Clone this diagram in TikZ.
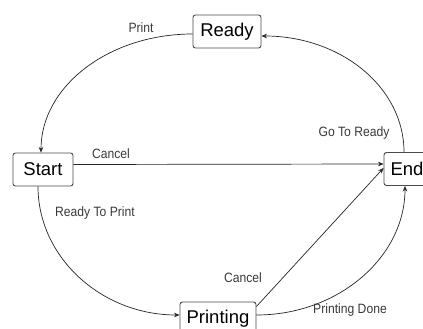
\documentclass[tikz,border=0pt]{standalone}
\usepackage{fontspec}
\setmainfont{Liberation Sans}
\newfontfamily\edgefont[FakeStretch=0.9]{Liberation Sans}
\usetikzlibrary{arrows.meta}
\definecolor{boxline}{HTML}{4A4A4A}
\definecolor{labeltext}{HTML}{3A3A3A}
\tikzset{
  state/.style={draw=boxline, line width=0.9pt, rounded corners=2.5pt, fill=white,
    minimum height=33pt, inner sep=0pt, font=\fontsize{18.5}{20}\selectfont},
  trans/.style={draw=black!85, line width=0.7pt, -{Stealth[length=5.5pt,width=4.5pt]}},
  elabel/.style={text=labeltext, inner sep=0pt, font=\edgefont\fontsize{13.5}{15}\selectfont}
}
\begin{document}
\begin{tikzpicture}[x=1pt, y=-1pt]
  \useasboundingbox (0,0) rectangle (423,329);
  \clip (0,0) rectangle (423,329);
  \fill[white] (0,0) rectangle (423,329);

  % states
  \node[state, minimum width=68pt] (ready) at (227,31.5) {Ready};
  \node[state, minimum width=60pt] (start) at (43,169.5) {Start};
  \node[state, minimum width=46pt] (end) at (407,169) {End};
  \node[state, minimum width=76pt] (printing) at (218,318.5) {Printing};

  % transitions
  \draw[trans] ([yshift=-2.5pt]ready.west) .. controls +(-84,0) and +(0,-66) .. ([xshift=-2pt]start.north);
  \draw[trans] ([xshift=-3pt]end.north) .. controls +(0,-65) and +(79,0) .. ([yshift=-4.5pt]ready.east);
  \draw[trans] ([yshift=5pt]start.east) -- ([yshift=5pt]end.west);
  \draw[trans] ([xshift=-5pt]start.south) .. controls +(0,71) and +(-78,0) .. ([yshift=3.5pt]printing.west);
  \draw[trans] ([yshift=12pt]printing.east) -- ([yshift=1pt]end.west);
  \draw[trans] ([yshift=3.5pt]printing.east) .. controls +(82,0) and +(0,71) .. ([xshift=-2pt]end.south);

  % transition labels
  \node[elabel] (lprint) at (141,28) {Print};
  \node[elabel] (lcancel) at (111,154) {Cancel};
  \node[elabel] (lgoready) at (354,133) {Go To Ready};
  \node[elabel] (lreadyprint) at (95,213) {Ready To Print};
  \node[elabel] (lcancel2) at (243,278) {Cancel};
  \node[elabel] (ldone) at (350,310) {Printing Done};
\end{tikzpicture}
\end{document}
